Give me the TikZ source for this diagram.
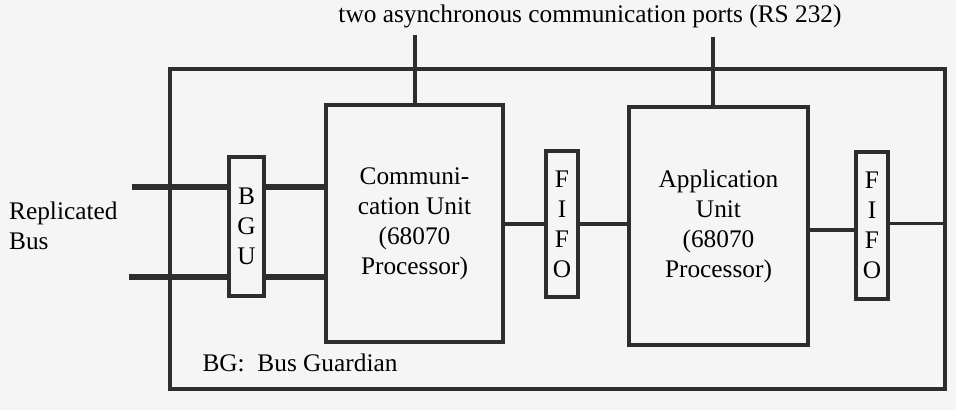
\documentclass[tikz,border=0pt]{standalone}
\usepackage{fontspec}
\setmainfont{Liberation Serif}
\usepackage{tikz}

\begin{document}
\begin{tikzpicture}[x=0.75pt,y=-0.75pt,line width=2.6pt,draw=black!82,
  font=\fontsize{19}{22.5}\selectfont,
  unit/.style={draw,shape=rectangle,inner sep=0pt,align=center},
  bus/.style={line width=4.5pt}]

\useasboundingbox[fill=black!4] (0,0) rectangle (956,410);

\node[draw,shape=rectangle,minimum width=581.25pt,minimum height=240pt] (frame) at (557.5,229) {};

\node[unit,minimum width=132.75pt,minimum height=177.75pt] (comm) at (414.5,223.5) {Communi-\\cation Unit\\(68070\\Processor)};
\node[unit,minimum width=134.25pt,minimum height=178.5pt] (app) at (718.5,226) {Application\\Unit\\(68070\\Processor)};

\node[unit,minimum width=26.25pt,minimum height=104.25pt] (bgu) at (246.5,226.5) {B\\G\\U};
\node[unit,minimum width=24pt,minimum height=109.5pt] (fifo1) at (562,224) {F\\I\\F\\O};
\node[unit,minimum width=24pt,minimum height=110.25pt] (fifo2) at (872,225.5) {F\\I\\F\\O};

\node (ports) at (590,16) {two asynchronous communication ports (RS 232)};
\node[anchor=west,align=left] (replbus) at (3,226) {Replicated\\Bus};
\node (bg) at (300,363) {BG:\ \ Bus Guardian};

\coordinate (bus1) at (132,187);
\coordinate (bus2) at (129,277);
\coordinate (port1) at (415,35);
\coordinate (port2) at (713,37);

\path[bus] (bus1) edge (bus1 -| bgu.west);
\path[bus] (bus2) edge (bus2 -| bgu.west);
\path[bus] (bus1 -| bgu.east) edge (bus1 -| comm.west);
\path[bus] (bus2 -| bgu.east) edge (bus2 -| comm.west);

\path (port1) edge (port1 |- comm.north);
\path (port2) edge (port2 |- app.north);

\path (fifo1.west) edge (fifo1.west -| comm.east);
\path (fifo1.east) edge (fifo1.east -| app.west);
\path ([yshift=-3.5pt]fifo2.west) edge ([yshift=-3.5pt]fifo2.west -| app.east);
\path ([yshift=1.5pt]fifo2.east) edge ([yshift=1.5pt]fifo2.east -| frame.east);

\end{tikzpicture}
\end{document}
